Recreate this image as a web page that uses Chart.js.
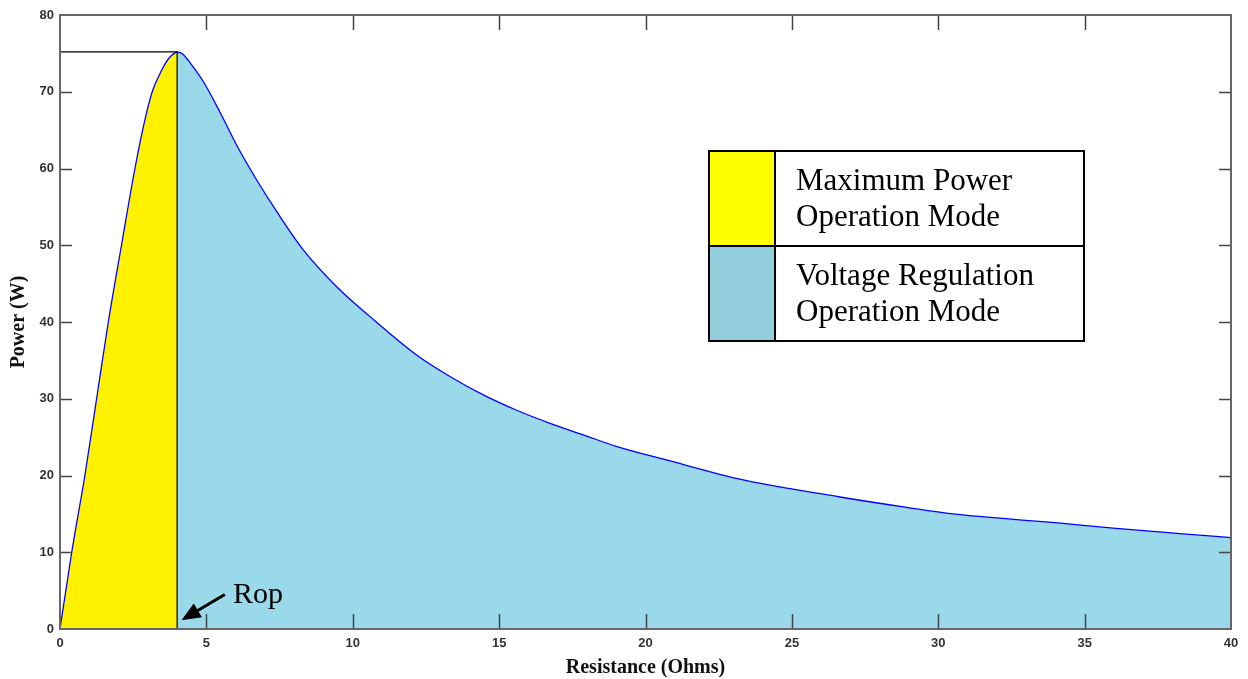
<!DOCTYPE html>
<html>
<head>
<meta charset="utf-8">
<script src="https://cdn.jsdelivr.net/npm/chart.js@4/dist/chart.umd.min.js"></script>
<style>
    body{ margin:0; background:#fff; }
    #wrap{ position:relative; width:1248px; height:679px; }
</style>
</head>
<body>
<div id="wrap"><canvas id="chart1" width="1248" height="679"></canvas></div>
<script>

// ------------------------------- DATA

var riseR = [0, 0.4, 0.85, 1.25, 1.65, 2.1, 2.56, 2.85, 3.15, 3.42, 3.6, 3.75, 3.9, 4.0]
var riseP = [0, 10, 20, 30, 40, 50, 60, 65.5, 70, 72.4, 73.7, 74.5, 75.0, 75.2]

var fallR = [4.0, 4.2, 4.44, 4.9, 5.47, 6.04, 6.72, 7.4, 8.31, 9.45, 10.59, 12.18, 13.32, 14.46, 15.6, 16.74, 17.87, 19.0, 20.84, 23.3, 26.64, 28.92, 30.5, 34.0, 36.07, 38.35, 40]
var fallP = [75.2, 74.9, 73.8, 71.3, 67.3, 63.0, 58.5, 54.4, 49.4, 44.6, 40.7, 35.7, 32.9, 30.5, 28.5, 26.8, 25.3, 23.8, 21.9, 19.45, 17.2, 15.85, 15.0, 13.85, 13.1, 12.4, 11.9]

// max power point marker lines
var markR = [0, 4, 4]
var markP = [75.2, 75.2, 0]

var xTicks = [0, 5, 10, 15, 20, 25, 30, 35, 40]
var yTicks = [0, 10, 20, 30, 40, 50, 60, 70, 80]

var legendLabels = [
    ['Maximum Power', 'Operation Mode'],
    ['Voltage Regulation', 'Operation Mode']
]
var legendColors = ['#FFFF00', '#92CDDC']

var ropLabel = 'Rop'
var ropArrow = {tail: {x: 5.63, y: 4.5}, tip: {x: 4.15, y: 1.15}, text: {x: 5.91, y: 3.39}}


const pts = (xs, ys) => xs.map((x, i) => ({x: x, y: ys[i]}))

// ------------------------------- PLUGIN (box, inward ticks, legend, arrow)

var extras = {
    id: 'extras',
    afterDraw: (chart) => {
        let ctx = chart.ctx
        let a = chart.chartArea
        let xs = chart.scales.x
        let ys = chart.scales.y
        ctx.save()

        // inward ticks
        ctx.strokeStyle = '#444'
        ctx.lineWidth = 1.5
        ctx.beginPath()
        xTicks.slice(1, -1).forEach(v => {
            let px = Math.round(xs.getPixelForValue(v)) + 0.5
            ctx.moveTo(px, a.bottom); ctx.lineTo(px, a.bottom - 15)
            ctx.moveTo(px, a.top); ctx.lineTo(px, a.top + 15)
        })
        yTicks.slice(1, -1).forEach(v => {
            let py = Math.round(ys.getPixelForValue(v)) + 0.5
            ctx.moveTo(a.left, py); ctx.lineTo(a.left + 12, py)
            ctx.moveTo(a.right, py); ctx.lineTo(a.right - 12, py)
        })
        ctx.stroke()

        // axes box
        ctx.strokeStyle = '#666'
        ctx.lineWidth = 2
        ctx.strokeRect(a.left, a.top, a.right - a.left, a.bottom - a.top)

        // Rop arrow
        let tx = xs.getPixelForValue(ropArrow.tail.x), ty = ys.getPixelForValue(ropArrow.tail.y)
        let hx = xs.getPixelForValue(ropArrow.tip.x), hy = ys.getPixelForValue(ropArrow.tip.y)
        let ang = Math.atan2(hy - ty, hx - tx)
        let c = Math.cos(ang), s = Math.sin(ang)
        ctx.strokeStyle = '#000'
        ctx.fillStyle = '#000'
        ctx.lineWidth = 3
        ctx.beginPath()
        ctx.moveTo(tx, ty)
        ctx.lineTo(hx - 14 * c, hy - 14 * s)
        ctx.stroke()
        ctx.beginPath()
        ctx.moveTo(hx, hy)
        ctx.lineTo(hx - 19 * c + 8 * s, hy - 19 * s - 8 * c)
        ctx.lineTo(hx - 19 * c - 8 * s, hy - 19 * s + 8 * c)
        ctx.closePath()
        ctx.fill()
        ctx.font = '30px "Liberation Serif", "Times New Roman", serif'
        ctx.textBaseline = 'alphabetic'
        ctx.fillText(ropLabel, xs.getPixelForValue(ropArrow.text.x), ys.getPixelForValue(ropArrow.text.y))

        // legend table
        let L = 709, T = 151, W = 375, H = 190, sw = 66
        let rh = H / legendLabels.length
        legendLabels.forEach((lines, i) => {
            ctx.fillStyle = legendColors[i]
            ctx.fillRect(L, T + i * rh, sw, rh)
            ctx.fillStyle = '#000'
            ctx.font = '31px "Liberation Serif", "Times New Roman", serif'
            ctx.textBaseline = 'middle'
            lines.forEach((s, j) => {
                ctx.fillText(s, L + sw + 21, T + i * rh + 31 + j * 36)
            })
        })
        ctx.strokeStyle = '#000'
        ctx.lineWidth = 2
        ctx.strokeRect(L, T, W, H)
        ctx.beginPath()
        ctx.moveTo(L + sw, T); ctx.lineTo(L + sw, T + H)
        ctx.moveTo(L, T + rh); ctx.lineTo(L + W, T + rh)
        ctx.stroke()

        ctx.restore()
    }
}

// ------------------------------- CHART

var chart = document.getElementById('chart1')
var tickFont = {family: '"Liberation Sans", Arial, sans-serif', size: 13, weight: 'bold'}
var titleFont = {family: '"Liberation Serif", "Times New Roman", serif', size: 20, weight: 'bold', lineHeight: 1}

var pv = new Chart(chart, {
    type: 'line',
    data: {
        datasets: [
            {
                label: 'marker',
                data: pts(markR, markP),
                borderColor: '#000',
                borderWidth: 1.2,
                pointRadius: 0,
                fill: false,
                tension: 0
            },
            {
                label: 'Maximum Power Operation Mode',
                data: pts(riseR, riseP),
                borderColor: '#0000ff',
                borderWidth: 1.3,
                backgroundColor: '#FFF200',
                pointRadius: 0,
                fill: 'origin',
                cubicInterpolationMode: 'monotone'
            },
            {
                label: 'Voltage Regulation Operation Mode',
                data: pts(fallR, fallP),
                borderColor: '#0000ff',
                borderWidth: 1.3,
                backgroundColor: '#99D9EA',
                pointRadius: 0,
                fill: 'origin',
                cubicInterpolationMode: 'monotone'
            }
        ]
    },
    options: {
        responsive: false,
        animation: false,
        layout: {padding: {top: 15, right: 17, bottom: 0, left: 0}},
        plugins: {legend: {display: false}, tooltip: {enabled: false}},
        scales: {
            x: {
                type: 'linear',
                min: 0,
                max: 40,
                afterBuildTicks: (s) => { s.ticks = xTicks.map(v => ({value: v})) },
                afterFit: (s) => { s.height = 50 },
                grid: {display: false, drawTicks: false},
                border: {display: false},
                ticks: {color: '#333', font: tickFont, padding: 7, maxRotation: 0},
                title: {display: true, text: 'Resistance (Ohms)', color: '#111', font: titleFont, padding: {top: 0, bottom: 1}}
            },
            y: {
                min: 0,
                max: 80,
                afterBuildTicks: (s) => { s.ticks = yTicks.map(v => ({value: v})) },
                afterFit: (s) => { s.width = 60 },
                grid: {display: false, drawTicks: false},
                border: {display: false},
                ticks: {color: '#333', font: tickFont, padding: 6},
                title: {display: true, text: 'Power (W)', color: '#111', font: titleFont, padding: {top: 9, bottom: 0}}
            }
        }
    },
    plugins: [extras]
})

</script>
</body>
</html>
